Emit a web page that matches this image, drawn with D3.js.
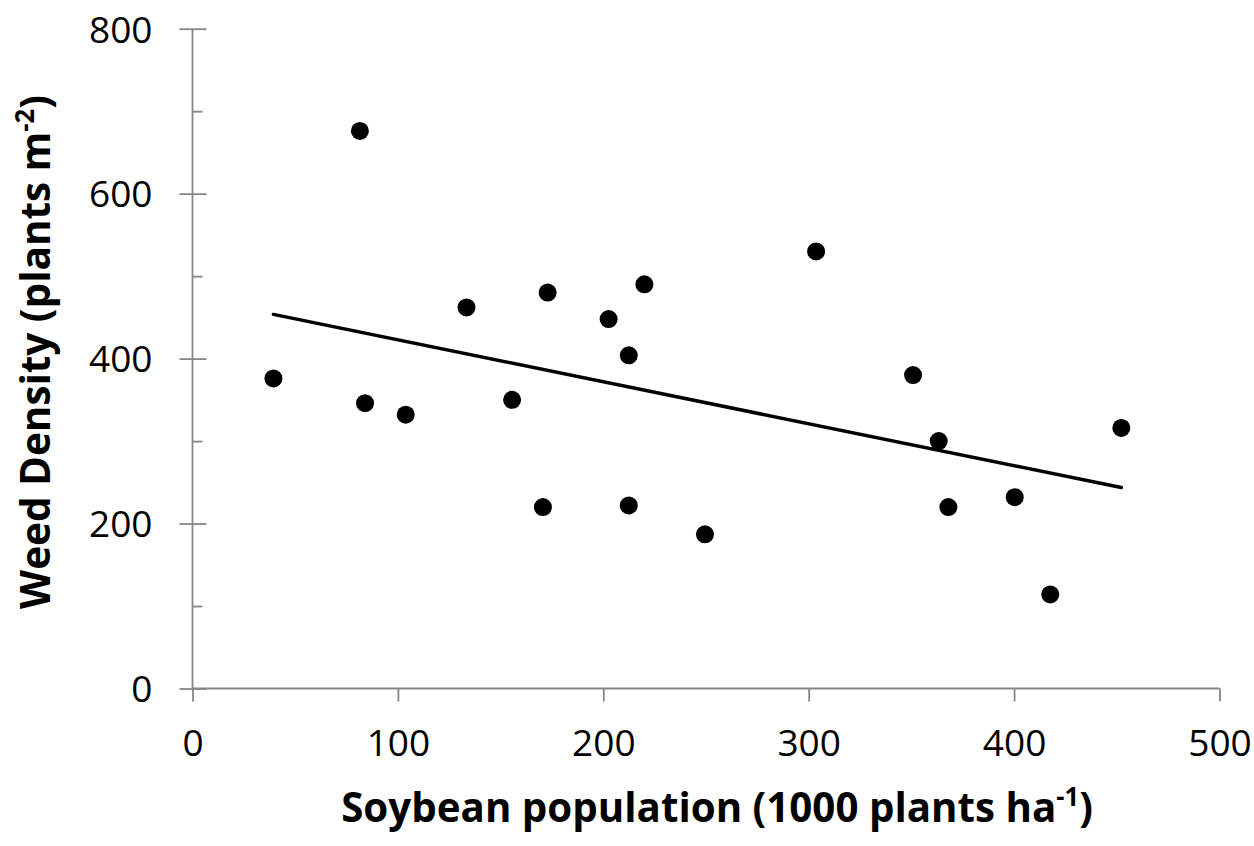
<!DOCTYPE html>
<html>
<head>
<meta charset="utf-8">
<script src="https://cdn.jsdelivr.net/npm/d3@7"></script>
<style>
  body { margin: 0; background: #fff; }
  svg { display: block; }
  .tick text { font-family: "Open Sans", sans-serif; fill: #000; }
</style>
</head>
<body>
<div id="chart"></div>
<script>
// data
const soybeanPop = [39.4, 81.5, 84.0, 103.8, 133.4, 155.6, 170.6, 172.9, 202.6, 212.4,
                    212.4, 220.0, 249.5, 303.6, 350.8, 363.3, 368.0, 400.3, 417.6, 452.2];
const weedDensity = [376, 676, 346, 332, 462, 350, 220, 480, 448, 404,
                     222, 490, 187, 530, 380, 300, 220, 232, 114, 316];
const xTicks = [0, 100, 200, 300, 400, 500];
const yMajorTicks = [0, 200, 400, 600, 800];
const yMinorTicks = [100, 300, 500, 700];

const W = 1254, H = 846;
const axisColor = "#868686";

const svg = d3.select("#chart").append("svg")
    .attr("width", W)
    .attr("height", H);

// scales
const x = d3.scaleLinear().domain([0, 500]).range([192.5, 1219.5]);
const y = d3.scaleLinear().domain([0, 800]).range([688.5, 28.7]);

// y axis: major ticks cross the line, minor ticks inside
const yAxis = svg.append("g")
    .attr("transform", `translate(${x(0)},0)`)
    .call(d3.axisLeft(y).tickValues(yMajorTicks).tickSize(13).tickPadding(27));
yAxis.selectAll("text").attr("font-size", 37).attr("dy", "0.36em").attr("font-family", "Open Sans");

svg.append("g")
    .attr("transform", `translate(${x(0)},0)`)
    .call(d3.axisLeft(y).tickValues(yMajorTicks).tickSize(-14).tickFormat(""))
    .call(g => g.select(".domain").remove());

svg.append("g")
    .attr("transform", `translate(${x(0)},0)`)
    .call(d3.axisLeft(y).tickValues(yMinorTicks).tickSize(-10).tickFormat(""))
    .call(g => g.select(".domain").remove());

// x axis
const xAxis = svg.append("g")
    .attr("transform", `translate(0,${y(0)})`)
    .call(d3.axisBottom(x).tickValues(xTicks).tickSize(13).tickSizeOuter(13).tickPadding(28));
xAxis.selectAll("text").attr("font-size", 37).attr("dy", "0.71em").attr("font-family", "Open Sans");

svg.selectAll(".domain, .tick line")
    .attr("stroke", axisColor)
    .attr("stroke-width", 1.8);
// no outer tick at the top of the y axis domain path
yAxis.select(".domain").attr("d", `M0,${y(800)}V${y(0)}`);
xAxis.select(".domain").attr("d", `M${x(0)},0H${x(500)}`);

// trend line (least squares over the points)
const mx = d3.mean(soybeanPop), my = d3.mean(weedDensity);
let sxy = 0, sxx = 0;
soybeanPop.forEach((v, i) => {
    sxy += (v - mx) * (weedDensity[i] - my);
    sxx += (v - mx) * (v - mx);
});
const slope = sxy / sxx;
const intercept = my - slope * mx;
const [xMin, xMax] = d3.extent(soybeanPop);

svg.append("line")
    .attr("x1", x(xMin)).attr("y1", y(intercept + slope * xMin))
    .attr("x2", x(xMax)).attr("y2", y(intercept + slope * xMax))
    .attr("stroke", "#000")
    .attr("stroke-width", 3.5)
    .attr("stroke-linecap", "round");

// points
svg.selectAll("circle")
    .data(soybeanPop.map((v, i) => [v, weedDensity[i]]))
    .enter()
    .append("circle")
    .attr("cx", d => x(d[0]))
    .attr("cy", d => y(d[1]))
    .attr("r", 9)
    .attr("fill", "#000");

// axis titles, squeezed horizontally to the reference width (narrow font there)
function fitWidth(textSel, targetW, cx, cy, rotate) {
    const w = textSel.node().getComputedTextLength();
    const s = targetW / w;
    textSel.attr("transform", `translate(${cx},${cy}) rotate(${rotate}) scale(${s},1)`);
}

const xTitle = svg.append("text")
    .attr("text-anchor", "middle")
    .attr("font-family", "Open Sans")
    .attr("font-weight", "bold")
    .attr("font-size", 41);
xTitle.append("tspan").text("Soybean population (1000 plants ha");
xTitle.append("tspan").attr("font-size", 26).attr("dy", -16).text("-1");
xTitle.append("tspan").attr("dy", 16).text(")");
fitWidth(xTitle, 752, 717, 822, 0);

const yTitle = svg.append("text")
    .attr("text-anchor", "middle")
    .attr("font-family", "Open Sans")
    .attr("font-weight", "bold")
    .attr("font-size", 41);
yTitle.append("tspan").text("Weed Density (plants m");
yTitle.append("tspan").attr("font-size", 26).attr("dy", -16).text("-2");
yTitle.append("tspan").attr("dy", 16).text(")");
fitWidth(yTitle, 514, 50, 352, -90);
</script>
</body>
</html>
